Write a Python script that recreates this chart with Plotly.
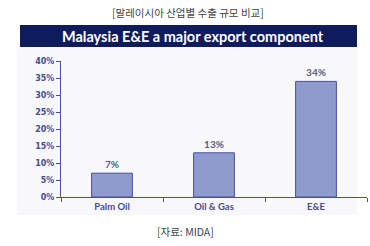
import plotly.graph_objects as go

categories = ["Palm Oil", "Oil & Gas", "E&E"]
values = [7, 13, 34]
y_ticks = [0, 5, 10, 15, 20, 25, 30, 35, 40]
y_tick_labels = [f"{v}%" for v in y_ticks]

W, H = 370, 246
L, R, T, B = 61, 3, 61, 49
pw, ph = W - L - R, H - T - B

def px(x):
    return (x - L) / pw

def py(y):
    return (H - B - y) / ph

axis_col = "#4d4d98"

fig = go.Figure(go.Bar(
    x=categories, y=values, width=0.4,
    marker=dict(color="#8d9bcd", line=dict(color="#4b4f9f", width=1)),
    text=[f"{v}%" for v in values], textposition="outside",
    textfont=dict(family="Lato", size=10, color="#5a5a80", weight="bold"),
    cliponaxis=False,
))

fig.update_layout(
    width=W, height=H,
    margin=dict(l=L, r=R, t=T, b=B),
    paper_bgcolor="white", plot_bgcolor="rgba(0,0,0,0)",
    showlegend=False,
    xaxis=dict(
        showline=True, linecolor=axis_col, linewidth=1.2,
        ticks="outside", tickson="boundaries", ticklen=4, tickcolor=axis_col,
        tickfont=dict(family="Lato", size=9.5, color="#4a4a8c", weight="bold"),
        showgrid=False, zeroline=False, fixedrange=True,
    ),
    yaxis=dict(
        range=[0, 40], tickvals=y_ticks, ticktext=y_tick_labels,
        showline=True, linecolor=axis_col, linewidth=1.2,
        ticks="outside", ticklen=4, tickcolor=axis_col,
        tickfont=dict(family="DejaVu Sans", size=8, color="#4a4a8c", weight="bold"),
        showgrid=False, zeroline=False,
    ),
    shapes=[
        dict(type="rect", xref="paper", yref="paper", layer="below",
             x0=px(17), x1=px(357), y0=py(215), y1=py(47),
             fillcolor="#f8f8fb", line=dict(width=0)),
        dict(type="rect", xref="paper", yref="paper", layer="below",
             x0=px(20), x1=px(357), y0=py(47), y1=py(25),
             fillcolor="#0f1c5c", line=dict(width=0)),
    ],
    annotations=[
        dict(text="[말레이시아 산업별 수출 규모 비교]", xref="paper", yref="paper",
             x=px(188), y=py(13), xanchor="center", yanchor="middle", showarrow=False,
             font=dict(family="Noto Sans CJK KR", size=10.5, color="#444444")),
        dict(text="Malaysia E&E a major export component", xref="paper", yref="paper",
             x=px(193), y=py(36), xanchor="center", yanchor="middle", showarrow=False,
             font=dict(family="Lato", size=14.5, color="white", weight="bold")),
        dict(text="[자료: MIDA]", xref="paper", yref="paper",
             x=px(185), y=py(231), xanchor="center", yanchor="middle", showarrow=False,
             font=dict(family="Noto Sans CJK KR", size=10.5, color="#444444")),
    ],
)

fig.write_html("out.html")
